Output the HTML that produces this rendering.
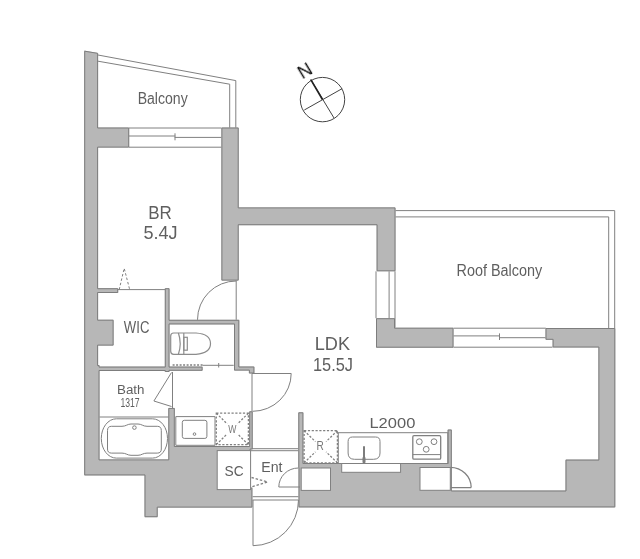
<!DOCTYPE html>
<html lang="ja"><head><meta charset="utf-8"><title>Floor plan</title>
<style>html,body{margin:0;padding:0;background:#fff}svg{display:block}</style></head>
<body>
<svg width="640" height="559" viewBox="0 0 640 559">
<rect width="640" height="559" fill="#fff"/>
<path d="M98.1 127.5L98.1 52.9L84.2 50.6L84.2 365.0L84.2 372.0L84.2 475.4L144.5 475.4L144.5 517.2L157.7 517.2L157.7 507.6L252.4 507.6L252.4 487.6L250.6 487.6L250.6 449.5L252.7 449.5L252.7 411.3L249.2 411.3L249.2 446.0L174.8 446.0L174.8 407.9L168.3 407.9L168.3 459.4L99.5 459.4L99.5 371.0L164.8 371.0L164.8 372.0L169.5 372.0L169.5 370.8L202.6 370.8L202.6 366.6L169.5 366.6L169.5 324.4L234.0 324.4L234.0 366.5L234.0 370.6L239.3 370.6L248.9 370.6L248.9 373.5L254.4 373.5L254.4 366.5L239.3 366.5L239.3 324.4L239.3 319.8L234.0 319.8L169.5 319.8L169.5 288.2L164.8 288.2L164.8 319.8L164.8 324.4L164.8 366.6L99.5 366.6L99.5 365.0L98.1 365.0L98.1 345.6L113.6 345.6L113.6 319.7L98.1 319.7L98.1 293.0L118.2 293.0L118.2 288.2L98.1 288.2L98.1 147.6L129.2 147.6L129.2 127.5ZM238.7 225.2L376.6 225.2L376.6 271.3L395.5 271.3L395.5 225.2L395.5 207.4L376.6 207.4L238.7 207.4L238.7 127.5L221.4 127.5L221.4 280.6L238.7 280.6ZM376.0 347.7L395.0 347.7L453.5 347.7L453.5 327.7L395.0 327.7L395.0 318.2L376.0 318.2L376.0 327.7ZM598.4 347.5L598.4 459.6L565.5 459.6L565.5 490.5L451.8 490.5L451.8 468.0L451.8 463.0L451.8 429.5L447.6 429.5L447.6 463.0L303.4 463.0L303.4 412.3L298.3 412.3L298.3 468.0L298.5 468.0L298.5 490.5L298.5 491.0L298.5 507.4L615.3 507.4L615.3 328.0L545.5 328.0L545.5 339.8L552.6 339.8L552.6 347.5Z" fill="#b7b7b7" fill-rule="evenodd"/>
<path d="M298.8 467.5L299.0 467.5L299.0 506.9L614.8 506.9L614.8 328.5L546.0 328.5L546.0 339.3L553.1 339.3L553.1 347.0L598.9 347.0L598.9 460.1L566.0 460.1L566.0 491.0L451.3 491.0L451.3 430.0L448.1 430.0L448.1 463.5L302.9 463.5L302.9 412.8L298.8 412.8ZM376.5 347.2L453.0 347.2L453.0 328.2L394.5 328.2L394.5 318.7L376.5 318.7ZM238.2 224.7L377.1 224.7L377.1 270.8L395.0 270.8L395.0 207.9L238.2 207.9L238.2 128.0L221.9 128.0L221.9 280.1L238.2 280.1ZM97.6 128.0L97.6 53.32L84.7 51.19L84.7 474.9L145.0 474.9L145.0 516.7L157.2 516.7L157.2 507.1L251.9 507.1L251.9 488.1L250.1 488.1L250.1 449.0L252.2 449.0L252.2 411.8L249.7 411.8L249.7 446.5L174.3 446.5L174.3 408.4L168.8 408.4L168.8 459.9L99.0 459.9L99.0 370.5L165.3 370.5L165.3 371.5L169.0 371.5L169.0 370.3L202.1 370.3L202.1 367.1L169.0 367.1L169.0 323.9L234.5 323.9L234.5 370.1L249.4 370.1L249.4 373.0L253.9 373.0L253.9 367.0L238.8 367.0L238.8 320.3L169.0 320.3L169.0 288.7L165.3 288.7L165.3 367.1L99.0 367.1L99.0 365.5L97.6 365.5L97.6 345.1L113.1 345.1L113.1 320.2L97.6 320.2L97.6 292.5L117.7 292.5L117.7 288.7L97.6 288.7L97.6 147.1L128.7 147.1L128.7 128.0Z" fill="none" stroke="#7d7d7d" stroke-width="1"/>
<g fill="none" stroke="#808080" stroke-width="1">
<path d="M98 55L235.8 80.6V127.7"/>
<path d="M98 61.2L229.7 84.2V127.7"/>
<path d="M129 128H221.4M129 136H175.3M174.7 137.4H221.4M129 147.2H221.4M175 133.3V140.3"/>
<path d="M395.5 210.6H614.7V328"/>
<path d="M395.5 216.9H608.7V328"/>
<path d="M395 271.3V327.7"/>
<path d="M376 271.3V318.2M389.1 271.3V318.2"/>
<path d="M453.5 328.2H545.8M453.5 335.9H499.8M499.2 337.7H545.5M453.5 347.2H552.5M499.5 333.4V340"/>
<path d="M118 289.6H165"/>
<path d="M119.2 289.6L124.2 268.3L129.7 289.6" stroke-dasharray="2.5 2"/>
<path d="M236.2 280.4V319.8"/>
<path d="M197.5 319.8A38.7 38.7 0 0 1 236.2 281"/>
<path d="M202.6 365.3H233.7M218.7 363V367.5"/>
<path d="M172.6 365H202.6" stroke-dasharray="2 1.5" stroke-width="1.6"/>
<g stroke-width="1.2" stroke="#8c8c8c">
<path d="M170.7 336Q170.7 333 173.7 333H196Q210.5 334 210.5 343.6Q210.5 353.3 196 354.3H173.7Q170.7 354.3 170.7 351.3Z"/>
<path d="M178.4 333Q182 343.6 178.4 354.3M183.8 333V354.3"/>
<rect x="183.8" y="337.3" width="3.5" height="12.9"/>
</g>
<path d="M171.5 372.5L153.9 401L171.5 406.5"/>
<path d="M172.5 372V408"/>
<path d="M99.5 417H168.6"/>
<rect x="101.3" y="418.8" width="66.2" height="39.3" rx="15" ry="19.6"/>
<path d="M107.5 430.5Q107.5 426.3 111.5 426.3H122C126 426.3 127.5 424 131 424H138C141.5 424 143 426.3 147 426.3H157.3Q161.3 426.3 161.3 430.5V449Q161.3 453.1 157.3 453.1H147C143 453.1 141.5 455.3 138 455.3H131C127.500 455.3 126 453.1 122 453.1H111.5Q107.5 453.1 107.5 449Z"/>
<circle cx="134.4" cy="427.6" r="1.8" fill="#fff"/>
<path d="M175.8 445.3V416.6H215V445.3Z" fill="#fff"/>
<rect x="182.3" y="420.3" width="24.6" height="18.1" rx="2"/>
<circle cx="194.5" cy="434.1" r="1.3"/>
<path d="M216.3 413.2H248.4V444.6H216.3ZM216.3 413.2L227.21 423.88M248.4 413.2L237.49 423.88M216.3 444.6L227.21 433.92M248.4 444.6L237.49 433.92" stroke-dasharray="2.2 1.6" stroke-width="1.3"/>
<path d="M252 373.5H291.2M252 373.5V411.3"/>
<path d="M291.2 373.5A38.8 37.8 0 0 1 252.5 411.3"/>
<path d="M252 448.7H298.3M251 450.7H298.3"/>
<path d="M252.6 496.7H298.5M252.6 500H298.5"/>
<path d="M253 500V545.7A45.7 45.7 0 0 0 298.5 500"/>
<path d="M278.8 487H300M278.8 487A19.6 19 0 0 1 298.4 468"/>
<path d="M251.5 477.5L267.6 482L251.5 486.8" stroke-dasharray="2.5 1.8" stroke-width="1.3"/>
<path d="M304.1 430.7H337.4V462.8H304.1ZM304.1 430.7L315.42 441.61M337.4 430.7L326.08 441.61M304.1 462.8L315.42 451.89M337.4 462.8L326.08 451.89" stroke-dasharray="2.2 1.6" stroke-width="1.3"/>
<path d="M450.3 487.6H471.2M450.3 467.4A20.9 20.2 0 0 1 471.2 487.6" stroke-width="1.3"/>
</g>
<g fill="#fff" stroke="#808080" stroke-width="1">
<rect x="217.2" y="450.6" width="33.4" height="39"/>
<rect x="301.2" y="468" width="29.3" height="22.4"/>
<rect x="420" y="467.5" width="30.3" height="22.8"/>
<rect x="338.3" y="432.7" width="109.4" height="30.8"/>
<rect x="341.7" y="463.5" width="58.9" height="8.8"/>
<path d="M352.5 437H375.5Q380 437 380 441.5V453Q380 459.3 373.5 459.3H354.5Q348.1 459.3 348.1 453V441.5Q348.1 437 352.5 437Z"/>
<rect x="412.8" y="435.7" width="27.9" height="23.4" rx="1.2" stroke-width="1.3"/>
<path d="M412.8 454.6H440.7"/>
<circle cx="419.3" cy="441.7" r="2.9"/><circle cx="434" cy="441.7" r="2.9"/><circle cx="426.2" cy="449.3" r="2.9"/>
</g>
<path d="M364 447V462" stroke="#7d7d7d" stroke-width="2" fill="none" stroke-linecap="round"/><path d="M364 458V462" stroke="#7d7d7d" stroke-width="3" fill="none" stroke-linecap="round"/>
<g fill="none" stroke="#444" stroke-width="1">
<circle cx="322.5" cy="99.6" r="22.2"/>
<path d="M310.8 79.6L334 118M304.3 110L342.2 88.6"/>
<path d="M310.8 79.6L322.5 99.5" stroke="#222" stroke-width="1.7"/>
</g>
<g font-family="'Liberation Sans', sans-serif" opacity="0.999">
<text x="137.65" y="104.0" font-size="15.84" textLength="50.08" lengthAdjust="spacingAndGlyphs" fill="#5f5f5f">Balcony</text>
<text x="148.31" y="219.1" font-size="18.6" textLength="23.58" lengthAdjust="spacingAndGlyphs" fill="#5f5f5f">BR</text>
<text x="143.38" y="238.8" font-size="19.04" textLength="34.16" lengthAdjust="spacingAndGlyphs" fill="#5f5f5f">5.4J</text>
<text x="123.85" y="333.3" font-size="16.28" textLength="25.54" lengthAdjust="spacingAndGlyphs" fill="#5f5f5f">WIC</text>
<text x="117.01" y="394.2" font-size="13.66" textLength="27.45" lengthAdjust="spacingAndGlyphs" fill="#5f5f5f">Bath</text>
<text x="120.44" y="407.0" font-size="12.5" textLength="19.19" lengthAdjust="spacingAndGlyphs" fill="#5f5f5f">1317</text>
<text x="224.58" y="475.7" font-size="14.83" textLength="19.13" lengthAdjust="spacingAndGlyphs" fill="#5f5f5f">SC</text>
<text x="261.24" y="472.3" font-size="13.81" textLength="21.26" lengthAdjust="spacingAndGlyphs" fill="#5f5f5f">Ent</text>
<text x="228.27" y="433.4" font-size="11.63" textLength="8.16" lengthAdjust="spacingAndGlyphs" fill="#777">W</text>
<text x="316.57" y="450.3" font-size="12.06" textLength="7.29" lengthAdjust="spacingAndGlyphs" fill="#777">R</text>
<text x="314.76" y="350.4" font-size="18.9" textLength="35.24" lengthAdjust="spacingAndGlyphs" fill="#5f5f5f">LDK</text>
<text x="312.96" y="370.5" font-size="19.19" textLength="40.06" lengthAdjust="spacingAndGlyphs" fill="#5f5f5f">15.5J</text>
<text x="456.62" y="276.1" font-size="15.84" textLength="85.61" lengthAdjust="spacingAndGlyphs" fill="#5f5f5f">Roof Balcony</text>
<text x="369.45" y="428.2" font-size="14.24" textLength="45.88" lengthAdjust="spacingAndGlyphs" fill="#5f5f5f">L2000</text>
<text x="0" y="6.4" font-size="18.5" fill="#111" transform="translate(305.1 70.9) rotate(-31)" text-anchor="middle">N</text>
</g>
</svg>
</body></html>
